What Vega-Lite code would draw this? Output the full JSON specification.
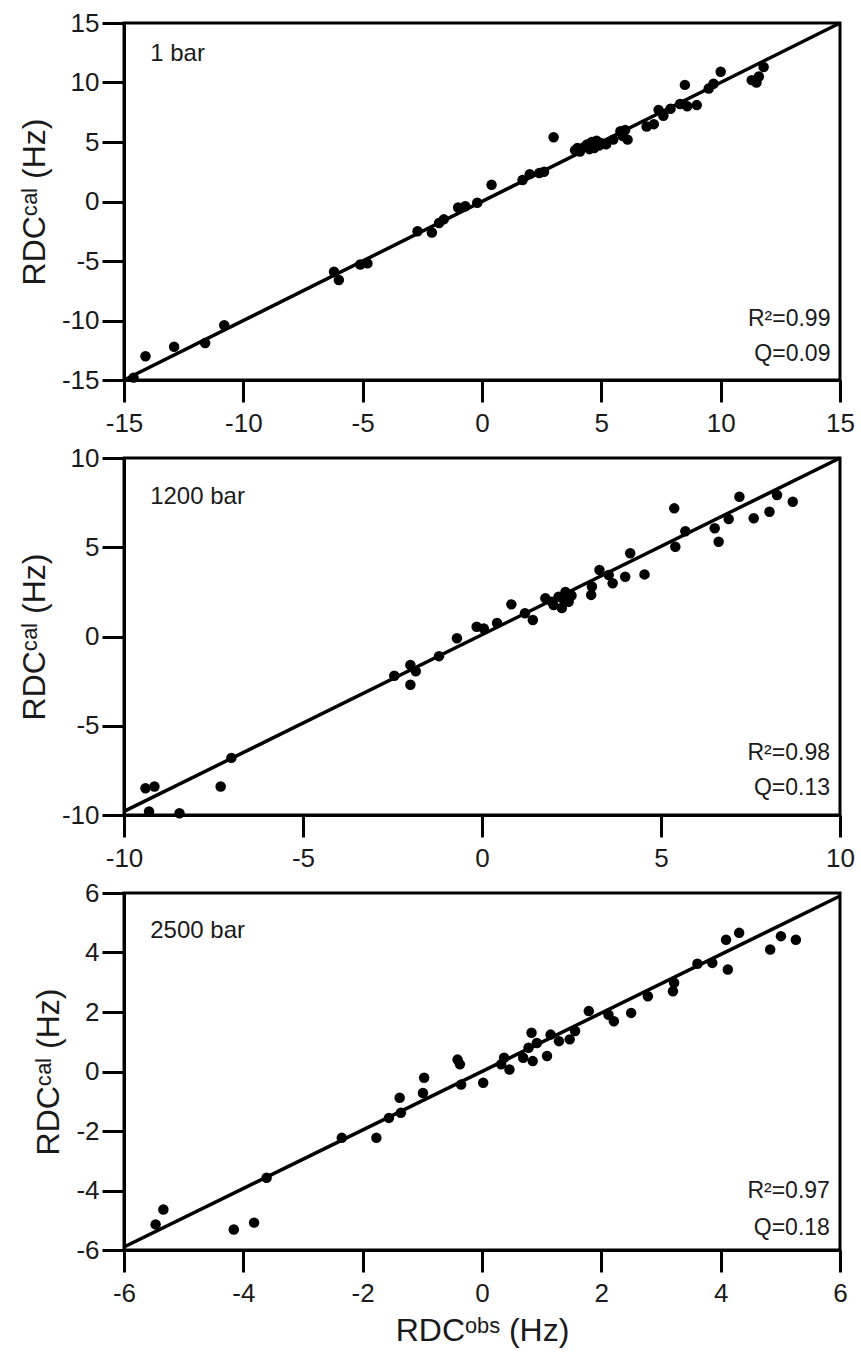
{
  "$schema": "https://vega.github.io/schema/vega-lite/v6.json",
  "background": "white",
  "padding": {"left": 16, "top": 8, "right": 16, "bottom": 8},
  "bounds": "flush",
  "spacing": 78,
  "config": {
    "font": "Liberation Sans",
    "view": {"stroke": "black", "strokeWidth": 3},
    "axis": {
      "grid": false,
      "domainColor": "black",
      "domainWidth": 3,
      "tickColor": "black",
      "tickWidth": 3,
      "tickSize": 22,
      "labelFontSize": 26,
      "labelColor": "#1a1a1a",
      "labelFont": "Liberation Sans",
      "labelOverlap": false,
      "labelFlush": false,
      "labelBound": false,
      "labelExpr": "'' + datum.value",
      "titleFont": "Liberation Sans",
      "titleFontSize": 32,
      "titleFontWeight": "normal",
      "titleColor": "#1a1a1a"
    },
    "axisX": {"labelPadding": 8, "titlePadding": 9},
    "axisY": {"labelPadding": 3, "titlePadding": 10}
  },
  "datasets": {
    "rdc": [
      {"panel": "1 bar", "obs": -14.6, "cal": -14.8},
      {"panel": "1 bar", "obs": -14.1, "cal": -13.0},
      {"panel": "1 bar", "obs": -12.9, "cal": -12.2},
      {"panel": "1 bar", "obs": -11.6, "cal": -11.9},
      {"panel": "1 bar", "obs": -10.8, "cal": -10.4},
      {"panel": "1 bar", "obs": -6.2, "cal": -5.9},
      {"panel": "1 bar", "obs": -6.0, "cal": -6.6},
      {"panel": "1 bar", "obs": -5.1, "cal": -5.3},
      {"panel": "1 bar", "obs": -4.8, "cal": -5.2},
      {"panel": "1 bar", "obs": -2.7, "cal": -2.5},
      {"panel": "1 bar", "obs": -2.1, "cal": -2.6},
      {"panel": "1 bar", "obs": -1.8, "cal": -1.8},
      {"panel": "1 bar", "obs": -1.6, "cal": -1.5},
      {"panel": "1 bar", "obs": -1.0, "cal": -0.5},
      {"panel": "1 bar", "obs": -0.7, "cal": -0.4},
      {"panel": "1 bar", "obs": -0.2, "cal": -0.1},
      {"panel": "1 bar", "obs": 0.4, "cal": 1.4},
      {"panel": "1 bar", "obs": 1.7, "cal": 1.8},
      {"panel": "1 bar", "obs": 2.0, "cal": 2.3},
      {"panel": "1 bar", "obs": 2.4, "cal": 2.4},
      {"panel": "1 bar", "obs": 2.6, "cal": 2.5},
      {"panel": "1 bar", "obs": 3.0, "cal": 5.4},
      {"panel": "1 bar", "obs": 3.9, "cal": 4.3},
      {"panel": "1 bar", "obs": 4.0, "cal": 4.5},
      {"panel": "1 bar", "obs": 4.1, "cal": 4.2},
      {"panel": "1 bar", "obs": 4.3, "cal": 4.6},
      {"panel": "1 bar", "obs": 4.4, "cal": 4.8},
      {"panel": "1 bar", "obs": 4.5, "cal": 4.4},
      {"panel": "1 bar", "obs": 4.6, "cal": 5.0},
      {"panel": "1 bar", "obs": 4.7, "cal": 4.5},
      {"panel": "1 bar", "obs": 4.8, "cal": 5.1},
      {"panel": "1 bar", "obs": 4.9, "cal": 4.7},
      {"panel": "1 bar", "obs": 5.0, "cal": 4.9},
      {"panel": "1 bar", "obs": 5.2, "cal": 4.8},
      {"panel": "1 bar", "obs": 5.5, "cal": 5.2},
      {"panel": "1 bar", "obs": 5.8, "cal": 5.9},
      {"panel": "1 bar", "obs": 5.9, "cal": 5.5},
      {"panel": "1 bar", "obs": 6.0, "cal": 6.0},
      {"panel": "1 bar", "obs": 6.1, "cal": 5.2},
      {"panel": "1 bar", "obs": 6.9, "cal": 6.3},
      {"panel": "1 bar", "obs": 7.2, "cal": 6.5},
      {"panel": "1 bar", "obs": 7.4, "cal": 7.7},
      {"panel": "1 bar", "obs": 7.6, "cal": 7.2},
      {"panel": "1 bar", "obs": 7.9, "cal": 7.8},
      {"panel": "1 bar", "obs": 8.3, "cal": 8.2},
      {"panel": "1 bar", "obs": 8.5, "cal": 9.8},
      {"panel": "1 bar", "obs": 8.6, "cal": 8.0},
      {"panel": "1 bar", "obs": 9.0, "cal": 8.1},
      {"panel": "1 bar", "obs": 9.5, "cal": 9.5},
      {"panel": "1 bar", "obs": 9.7, "cal": 9.9},
      {"panel": "1 bar", "obs": 10.0, "cal": 10.9},
      {"panel": "1 bar", "obs": 11.3, "cal": 10.2},
      {"panel": "1 bar", "obs": 11.5, "cal": 10.0},
      {"panel": "1 bar", "obs": 11.6, "cal": 10.5},
      {"panel": "1 bar", "obs": 11.8, "cal": 11.3},
      {"panel": "1200 bar", "obs": -9.4, "cal": -8.5},
      {"panel": "1200 bar", "obs": -9.15, "cal": -8.4},
      {"panel": "1200 bar", "obs": -9.3, "cal": -9.8},
      {"panel": "1200 bar", "obs": -8.45, "cal": -9.9},
      {"panel": "1200 bar", "obs": -7.3, "cal": -8.4},
      {"panel": "1200 bar", "obs": -7.0, "cal": -6.8},
      {"panel": "1200 bar", "obs": -2.45, "cal": -2.2},
      {"panel": "1200 bar", "obs": -2.0, "cal": -1.6},
      {"panel": "1200 bar", "obs": -2.0, "cal": -2.7},
      {"panel": "1200 bar", "obs": -1.85, "cal": -1.95},
      {"panel": "1200 bar", "obs": -1.2, "cal": -1.1},
      {"panel": "1200 bar", "obs": -0.7, "cal": -0.1},
      {"panel": "1200 bar", "obs": -0.15, "cal": 0.55},
      {"panel": "1200 bar", "obs": 0.05, "cal": 0.45},
      {"panel": "1200 bar", "obs": 0.42, "cal": 0.76},
      {"panel": "1200 bar", "obs": 0.82, "cal": 1.8},
      {"panel": "1200 bar", "obs": 1.2, "cal": 1.3},
      {"panel": "1200 bar", "obs": 1.42, "cal": 0.92},
      {"panel": "1200 bar", "obs": 1.77, "cal": 2.14},
      {"panel": "1200 bar", "obs": 1.95, "cal": 1.95},
      {"panel": "1200 bar", "obs": 2.0, "cal": 1.76},
      {"panel": "1200 bar", "obs": 2.14, "cal": 2.23},
      {"panel": "1200 bar", "obs": 2.23, "cal": 1.6},
      {"panel": "1200 bar", "obs": 2.3, "cal": 2.0},
      {"panel": "1200 bar", "obs": 2.33, "cal": 2.5},
      {"panel": "1200 bar", "obs": 2.42, "cal": 1.95},
      {"panel": "1200 bar", "obs": 2.5, "cal": 2.3},
      {"panel": "1200 bar", "obs": 3.05, "cal": 2.33},
      {"panel": "1200 bar", "obs": 3.07, "cal": 2.8},
      {"panel": "1200 bar", "obs": 3.28, "cal": 3.73},
      {"panel": "1200 bar", "obs": 3.54, "cal": 3.45},
      {"panel": "1200 bar", "obs": 3.65, "cal": 2.98},
      {"panel": "1200 bar", "obs": 4.0, "cal": 3.35},
      {"panel": "1200 bar", "obs": 4.14, "cal": 4.66},
      {"panel": "1200 bar", "obs": 4.54, "cal": 3.48},
      {"panel": "1200 bar", "obs": 5.37, "cal": 7.18},
      {"panel": "1200 bar", "obs": 5.4, "cal": 5.03},
      {"panel": "1200 bar", "obs": 5.68, "cal": 5.9},
      {"panel": "1200 bar", "obs": 6.5, "cal": 6.06},
      {"panel": "1200 bar", "obs": 6.61, "cal": 5.31},
      {"panel": "1200 bar", "obs": 6.89, "cal": 6.58},
      {"panel": "1200 bar", "obs": 7.19, "cal": 7.83},
      {"panel": "1200 bar", "obs": 7.59, "cal": 6.62},
      {"panel": "1200 bar", "obs": 8.03, "cal": 6.99},
      {"panel": "1200 bar", "obs": 8.24, "cal": 7.93},
      {"panel": "1200 bar", "obs": 8.68, "cal": 7.55},
      {"panel": "2500 bar", "obs": -5.47, "cal": -5.14},
      {"panel": "2500 bar", "obs": -5.34, "cal": -4.64},
      {"panel": "2500 bar", "obs": -4.16, "cal": -5.31},
      {"panel": "2500 bar", "obs": -3.82, "cal": -5.08},
      {"panel": "2500 bar", "obs": -3.61, "cal": -3.57},
      {"panel": "2500 bar", "obs": -2.35, "cal": -2.23},
      {"panel": "2500 bar", "obs": -1.77, "cal": -2.23},
      {"panel": "2500 bar", "obs": -1.56, "cal": -1.56},
      {"panel": "2500 bar", "obs": -1.36, "cal": -1.39},
      {"panel": "2500 bar", "obs": -1.38, "cal": -0.88},
      {"panel": "2500 bar", "obs": -0.99, "cal": -0.72},
      {"panel": "2500 bar", "obs": -0.97, "cal": -0.21},
      {"panel": "2500 bar", "obs": -0.41, "cal": 0.4},
      {"panel": "2500 bar", "obs": -0.37, "cal": 0.24},
      {"panel": "2500 bar", "obs": -0.35, "cal": -0.44},
      {"panel": "2500 bar", "obs": 0.02, "cal": -0.38},
      {"panel": "2500 bar", "obs": 0.32, "cal": 0.24},
      {"panel": "2500 bar", "obs": 0.37, "cal": 0.46},
      {"panel": "2500 bar", "obs": 0.46, "cal": 0.07},
      {"panel": "2500 bar", "obs": 0.69, "cal": 0.46},
      {"panel": "2500 bar", "obs": 0.78, "cal": 0.8},
      {"panel": "2500 bar", "obs": 0.83, "cal": 1.3},
      {"panel": "2500 bar", "obs": 0.85, "cal": 0.35},
      {"panel": "2500 bar", "obs": 0.92, "cal": 0.96},
      {"panel": "2500 bar", "obs": 1.09, "cal": 0.52},
      {"panel": "2500 bar", "obs": 1.15, "cal": 1.24},
      {"panel": "2500 bar", "obs": 1.29, "cal": 1.02},
      {"panel": "2500 bar", "obs": 1.47, "cal": 1.08},
      {"panel": "2500 bar", "obs": 1.56, "cal": 1.36},
      {"panel": "2500 bar", "obs": 1.79, "cal": 2.03},
      {"panel": "2500 bar", "obs": 2.12, "cal": 1.91},
      {"panel": "2500 bar", "obs": 2.21, "cal": 1.69},
      {"panel": "2500 bar", "obs": 2.5, "cal": 1.97},
      {"panel": "2500 bar", "obs": 2.78, "cal": 2.53},
      {"panel": "2500 bar", "obs": 3.2, "cal": 2.7},
      {"panel": "2500 bar", "obs": 3.22, "cal": 2.98},
      {"panel": "2500 bar", "obs": 3.61, "cal": 3.62},
      {"panel": "2500 bar", "obs": 3.86, "cal": 3.65},
      {"panel": "2500 bar", "obs": 4.12, "cal": 3.43},
      {"panel": "2500 bar", "obs": 4.09, "cal": 4.43},
      {"panel": "2500 bar", "obs": 4.31, "cal": 4.66},
      {"panel": "2500 bar", "obs": 4.83, "cal": 4.1},
      {"panel": "2500 bar", "obs": 5.01, "cal": 4.55},
      {"panel": "2500 bar", "obs": 5.26, "cal": 4.43}
    ],
    "fit": [
      {"panel": "1 bar", "obs": -15, "cal": -15},
      {"panel": "1 bar", "obs": 15, "cal": 15},
      {"panel": "1200 bar", "obs": -10, "cal": -9.8},
      {"panel": "1200 bar", "obs": 10, "cal": 10},
      {"panel": "2500 bar", "obs": -6, "cal": -5.9},
      {"panel": "2500 bar", "obs": 6, "cal": 5.9}
    ],
    "labels": [
      {"panel": "1 bar", "obs": -13.9, "cal": 12.4, "text": "1 bar"},
      {"panel": "1200 bar", "obs": -9.27, "cal": 7.8, "text": "1200 bar"},
      {"panel": "2500 bar", "obs": -5.56, "cal": 4.72, "text": "2500 bar"}
    ],
    "stats": [
      {"panel": "1 bar", "obs": 14.6, "cal": -9.9, "text": "R²=0.99"},
      {"panel": "1 bar", "obs": 14.6, "cal": -12.8, "text": "Q=0.09"},
      {"panel": "1200 bar", "obs": 9.72, "cal": -6.5, "text": "R²=0.98"},
      {"panel": "1200 bar", "obs": 9.72, "cal": -8.5, "text": "Q=0.13"},
      {"panel": "2500 bar", "obs": 5.83, "cal": -4.0, "text": "R²=0.97"},
      {"panel": "2500 bar", "obs": 5.83, "cal": -5.26, "text": "Q=0.18"}
    ]
  },
  "vconcat": [
    {
      "width": 716,
      "height": 357,
      "encoding": {
        "x": {"field": "obs", "type": "quantitative", "scale": {"domain": [-15, 15], "nice": false, "zero": false}, "axis": {"values": [-15, -10, -5, 0, 5, 10, 15], "title": null}},
        "y": {"field": "cal", "type": "quantitative", "scale": {"domain": [-15, 15], "nice": false, "zero": false}, "axis": {"values": [-15, -10, -5, 0, 5, 10, 15], "title": "RDCᶜᵃˡ (Hz)"}}
      },
      "layer": [
        {"data": {"name": "fit"}, "transform": [{"filter": "datum.panel === '1 bar'"}], "mark": {"type": "line", "color": "black", "strokeWidth": 3.5}},
        {"data": {"name": "rdc"}, "transform": [{"filter": "datum.panel === '1 bar'"}], "mark": {"type": "circle", "size": 110, "color": "black", "opacity": 1}},
        {"data": {"name": "labels"}, "transform": [{"filter": "datum.panel === '1 bar'"}], "mark": {"type": "text", "align": "left", "baseline": "middle", "fontSize": 24, "color": "#1a1a1a"}, "encoding": {"text": {"field": "text"}}},
        {"data": {"name": "stats"}, "transform": [{"filter": "datum.panel === '1 bar'"}], "mark": {"type": "text", "align": "right", "baseline": "middle", "fontSize": 23, "color": "#1a1a1a"}, "encoding": {"text": {"field": "text"}}}
      ]
    },
    {
      "width": 716,
      "height": 357,
      "encoding": {
        "x": {"field": "obs", "type": "quantitative", "scale": {"domain": [-10, 10], "nice": false, "zero": false}, "axis": {"values": [-10, -5, 0, 5, 10], "title": null}},
        "y": {"field": "cal", "type": "quantitative", "scale": {"domain": [-10, 10], "nice": false, "zero": false}, "axis": {"values": [-10, -5, 0, 5, 10], "title": "RDCᶜᵃˡ (Hz)"}}
      },
      "layer": [
        {"data": {"name": "fit"}, "transform": [{"filter": "datum.panel === '1200 bar'"}], "mark": {"type": "line", "color": "black", "strokeWidth": 3.5}},
        {"data": {"name": "rdc"}, "transform": [{"filter": "datum.panel === '1200 bar'"}], "mark": {"type": "circle", "size": 110, "color": "black", "opacity": 1}},
        {"data": {"name": "labels"}, "transform": [{"filter": "datum.panel === '1200 bar'"}], "mark": {"type": "text", "align": "left", "baseline": "middle", "fontSize": 24, "color": "#1a1a1a"}, "encoding": {"text": {"field": "text"}}},
        {"data": {"name": "stats"}, "transform": [{"filter": "datum.panel === '1200 bar'"}], "mark": {"type": "text", "align": "right", "baseline": "middle", "fontSize": 23, "color": "#1a1a1a"}, "encoding": {"text": {"field": "text"}}}
      ]
    },
    {
      "width": 716,
      "height": 357,
      "encoding": {
        "x": {"field": "obs", "type": "quantitative", "scale": {"domain": [-6, 6], "nice": false, "zero": false}, "axis": {"values": [-6, -4, -2, 0, 2, 4, 6], "title": "RDCᵒᵇˢ (Hz)"}},
        "y": {"field": "cal", "type": "quantitative", "scale": {"domain": [-6, 6], "nice": false, "zero": false}, "axis": {"values": [-6, -4, -2, 0, 2, 4, 6], "title": "RDCᶜᵃˡ (Hz)"}}
      },
      "layer": [
        {"data": {"name": "fit"}, "transform": [{"filter": "datum.panel === '2500 bar'"}], "mark": {"type": "line", "color": "black", "strokeWidth": 3.5}},
        {"data": {"name": "rdc"}, "transform": [{"filter": "datum.panel === '2500 bar'"}], "mark": {"type": "circle", "size": 110, "color": "black", "opacity": 1}},
        {"data": {"name": "labels"}, "transform": [{"filter": "datum.panel === '2500 bar'"}], "mark": {"type": "text", "align": "left", "baseline": "middle", "fontSize": 24, "color": "#1a1a1a"}, "encoding": {"text": {"field": "text"}}},
        {"data": {"name": "stats"}, "transform": [{"filter": "datum.panel === '2500 bar'"}], "mark": {"type": "text", "align": "right", "baseline": "middle", "fontSize": 23, "color": "#1a1a1a"}, "encoding": {"text": {"field": "text"}}}
      ]
    }
  ]
}
